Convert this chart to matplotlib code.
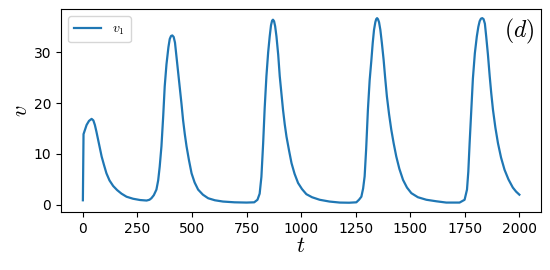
import numpy as np
import matplotlib.pyplot as plt

plt.rcParams['mathtext.fontset'] = 'cm'

# values
t = [0, 3, 10, 17, 28, 40, 48, 55, 62, 70, 78, 86, 97, 108, 122, 139, 157,
     177, 200, 230, 262, 292, 305, 314, 325, 337, 345, 352, 360, 368, 375,
     383, 392, 398, 404, 410, 416, 422, 429, 437, 444, 452, 459, 467, 475,
     486, 498, 512, 528, 550, 574, 605, 642, 695, 750, 785, 800, 810, 818,
     826, 833, 841, 849, 856, 862, 867, 871, 876, 881, 887, 895, 902, 910,
     917, 925, 933, 945, 956, 970, 986, 1004, 1024, 1050, 1085, 1130, 1177,
     1220, 1253, 1265, 1276, 1284, 1291, 1298, 1306, 1314, 1322, 1328, 1334,
     1340, 1344, 1348, 1352, 1357, 1363, 1370, 1378, 1385, 1393, 1403, 1413,
     1424, 1436, 1450, 1467, 1485, 1505, 1535, 1574, 1620, 1665, 1726, 1749,
     1760, 1766, 1772, 1780, 1787, 1796, 1805, 1812, 1818, 1824, 1830, 1836,
     1842, 1848, 1856, 1864, 1871, 1879, 1890, 1902, 1916, 1932, 1950, 1970,
     1985, 2000]
v1 = [0.9, 13.9, 14.8, 15.7, 16.5, 16.9, 16.6, 15.7, 14.4, 12.8, 11.1, 9.5,
      7.8, 6.2, 4.8, 3.7, 2.9, 2.2, 1.6, 1.2, 0.95, 0.85, 1.0, 1.3, 1.9, 3.0,
      4.8, 7.5, 11.5, 17.4, 23.3, 27.6, 31.0, 32.6, 33.2, 33.3, 33.0, 31.9,
      29.1, 26.0, 23.0, 19.8, 16.7, 13.9, 11.5, 8.8, 6.2, 4.4, 3.0, 2.0, 1.3,
      0.9, 0.65, 0.5, 0.45, 0.5, 1.0, 2.2, 5.5, 12.1, 19.0, 25.3, 30.0, 33.1,
      35.3, 36.2, 36.4, 36.1, 35.1, 33.1, 29.5, 25.3, 21.8, 18.7, 15.8, 13.4,
      10.6, 8.2, 6.1, 4.3, 3.1, 2.1, 1.5, 1.0, 0.65, 0.45, 0.42, 0.5, 1.0,
      1.6, 3.2, 5.6, 11.0, 18.7, 24.5, 28.5, 31.8, 34.4, 35.9, 36.5, 36.7,
      36.5, 35.9, 34.4, 31.8, 28.5, 25.0, 21.3, 17.8, 14.8, 12.1, 9.5, 7.1,
      4.9, 3.4, 2.3, 1.5, 1.0, 0.7, 0.45, 0.45, 1.0, 3.0, 6.5, 12.1, 19.0,
      24.8, 29.8, 33.1, 35.0, 36.1, 36.6, 36.7, 36.5, 35.6, 33.1, 29.5, 25.3,
      22.0, 18.7, 15.2, 12.1, 9.3, 6.9, 5.0, 3.4, 2.6, 2.0]

fig = plt.figure(figsize=(5.5, 2.7), dpi=100)
ax = fig.add_axes([0.111, 0.215, 0.873, 0.752])
ax.plot(t, v1, color='tab:blue', lw=1.6, label=r'$v_1$')
ax.set_xlabel(r'$t$', fontsize=16, labelpad=0)
ax.set_ylabel(r'$v$', fontsize=16, labelpad=2)
ax.set_xticks([0, 250, 500, 750, 1000, 1250, 1500, 1750, 2000])
ax.set_yticks([0, 10, 20, 30])
ax.tick_params(labelsize=10)
ax.legend(loc='upper left', fontsize=10)
ax.text(0.985, 0.96, r'$(d)$', transform=ax.transAxes, ha='right', va='top',
        fontsize=17)

fig.savefig('out.png', dpi=100)
